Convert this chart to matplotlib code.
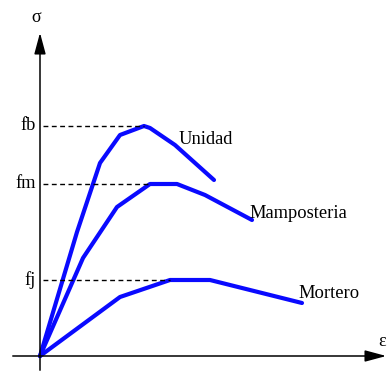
import matplotlib
matplotlib.use("Agg")
import matplotlib.pyplot as plt

# Data (arbitrary units: strain, stress)
unidad_x = [0, 37, 60, 80, 104, 110, 135, 174]
unidad_y = [0, 124, 193, 221, 230, 228, 211, 176]
mamp_x = [0, 43, 77, 110, 137, 165, 212]
mamp_y = [0, 98, 149, 172, 172, 161, 136]
mort_x = [0, 80, 130, 170, 262]
mort_y = [0, 59, 76, 76, 53]
levels = {"fb": (230, 104), "fm": (172, 110), "fj": (76, 130)}
curve_labels = {"Unidad": (139, 217), "Mamposteria": (209, 142), "Mortero": (258, 63)}

plt.rcParams['font.family'] = ['Liberation Serif', 'DejaVu Serif']
fig = plt.figure(figsize=(3.9, 3.73), dpi=100)
ax = fig.add_axes([0, 0, 1, 1])
ax.set_xlim(-40, 350)
ax.set_ylim(-17, 356)
ax.axis('off')

blue = '#0a0aff'
for xs, ys in [(unidad_x, unidad_y), (mamp_x, mamp_y), (mort_x, mort_y)]:
    ax.plot(xs, ys, color=blue, lw=3.0, solid_capstyle='round', solid_joinstyle='round')

# axes arrows
ax.annotate('', xy=(0, 326), xytext=(0, -17),
            arrowprops=dict(arrowstyle='-|>,head_length=1.3,head_width=0.35', color='black', lw=1.1))
ax.annotate('', xy=(349, 0), xytext=(-30, 0),
            arrowprops=dict(arrowstyle='-|>,head_length=1.3,head_width=0.35', color='black', lw=1.1))

ax.text(-4, 339, 'σ', ha='center', va='center', fontsize=13)
ax.text(342, 14, 'ε', ha='center', va='center', fontsize=13)

for name, (yv, xend) in levels.items():
    ax.plot([3, xend], [yv, yv], color='black', lw=1.0, ls=(0, (3.5, 2.5)))
    ax.text(-4, yv, name, ha='right', va='center', fontsize=13.3)

for name, (tx, ty) in curve_labels.items():
    ax.text(tx, ty, name, ha='left', va='center', fontsize=13.3)

fig.savefig('out.png', dpi=100)
